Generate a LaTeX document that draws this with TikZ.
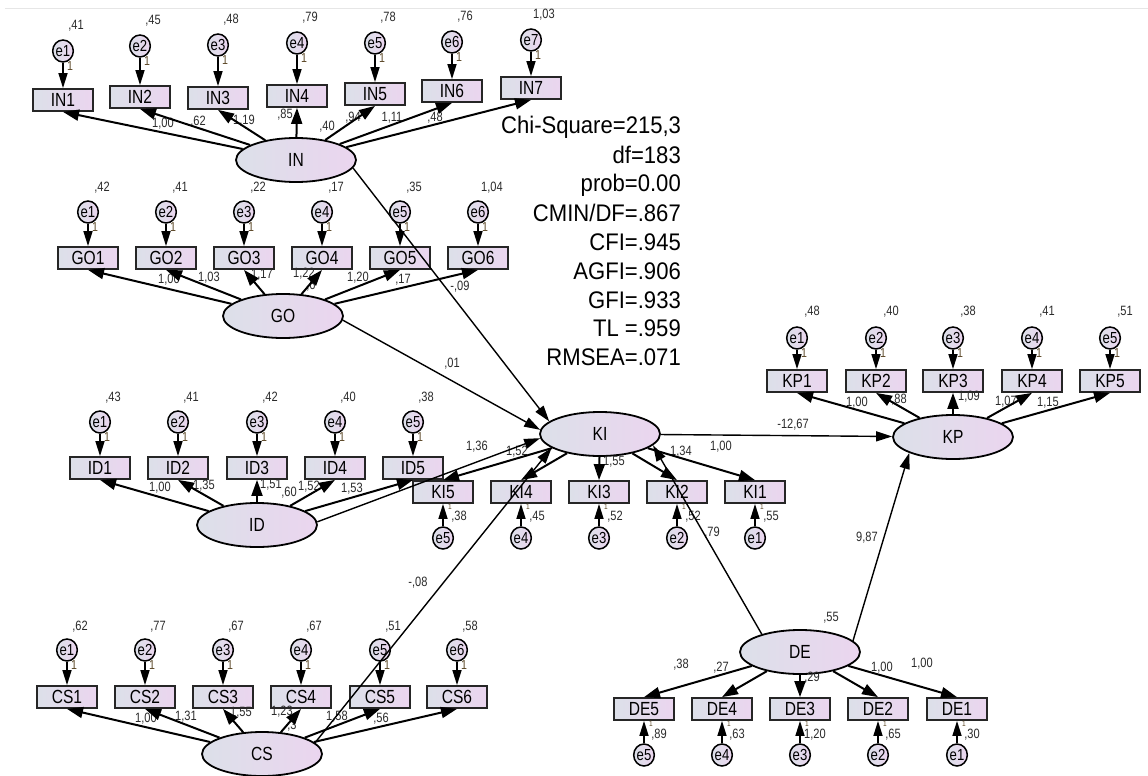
\documentclass[tikz,border=0pt]{standalone}
\usepackage{fontspec}
\setmainfont{Liberation Sans}
\newfontfamily\amosfont{Liberation Sans}[FakeStretch=0.82]
\newfontfamily\statfont{Liberation Sans}[FakeStretch=0.92]
\usetikzlibrary{arrows.meta,shapes.geometric}
\definecolor{boxleft}{HTML}{DCE0E9}
\definecolor{boxright}{HTML}{EBD5EF}
\definecolor{numcol}{HTML}{2B2B2B}
\definecolor{onecol}{HTML}{5E4A2A}
\definecolor{rulecol}{HTML}{E6E6E6}
\begin{document}
\begin{tikzpicture}[x=1pt,y=-1pt,
  obs/.style={rectangle,draw=black!85,line width=1.8pt,minimum width=60pt,minimum height=22pt,inner sep=0pt,left color=boxleft,right color=boxright,font=\amosfont\fontsize{19}{19}\selectfont},
  lat/.style={ellipse,draw=black,line width=1.8pt,minimum width=120pt,minimum height=44pt,inner sep=0pt,left color=boxleft,right color=boxright,font=\amosfont\fontsize{19}{19}\selectfont},
  err/.style={ellipse,draw=black,line width=1.5pt,minimum width=19pt,minimum height=22pt,inner sep=0pt,left color=boxleft,right color=boxright,font=\amosfont\fontsize{16}{16}\selectfont},
  load/.style={line width=2pt,-{Triangle[length=16pt,width=11pt]}},
  earr/.style={line width=1.6pt,-{Triangle[length=15pt,width=9pt]}},
  reg/.style={line width=1.4pt,-{Triangle[length=16pt,width=10pt]}},
  num/.style={text=numcol,inner sep=0pt,font=\amosfont\fontsize{13.5}{13.5}\selectfont},
  one/.style={text=onecol,inner sep=0pt,font=\amosfont\fontsize{13}{13}\selectfont},
  lowone/.style={text=onecol,inner sep=0pt,font=\amosfont\fontsize{8}{8}\selectfont},
  stats/.style={inner sep=0pt,font=\statfont\fontsize{24}{27}\selectfont}]
\path[use as bounding box,fill=white] (0,0) rectangle (1148,776);
\draw[rulecol,line width=1pt] (5,9) -- (1148,9);

% IN
\foreach \i/\x/\y/\ey/\v in {1/63/100/51/{,41},2/140/97/46/{,45},3/218/98/45/{,48},4/297/96/43/{,79},5/375/94/43/{,78},6/452/91/42/{,76},7/531/88/40/{1,03}}{
  \node[obs] (IN\i) at (\x,\y) {IN\i};
  \node[err] (eIN\i) at (\x,\ey) {e\i};
  \node[num] (vIN\i) at (\x+13,\ey-25) {\v};
  \node[one] (oIN\i) at (\x+7,\ey+15) {1};
}
\node[lat] (IN) at (296,160) {IN};

% GO
\foreach \i/\x/\v in {1/88/{,42},2/166/{,41},3/244/{,22},4/322/{,17},5/400/{,35},6/478/{1,04}}{
  \node[obs] (GO\i) at (\x,258) {GO\i};
  \node[err] (eGO\i) at (\x,212) {e\i};
  \node[num] (vGO\i) at (\x+14,188) {\v};
  \node[one] (oGO\i) at (\x+7,227) {1};
}
\node[lat] (GO) at (283,316) {GO};

% ID
\foreach \i/\x/\v in {1/100/{,43},2/178/{,41},3/257/{,42},4/335/{,40},5/413/{,38}}{
  \node[obs] (ID\i) at (\x,468) {ID\i};
  \node[err] (eID\i) at (\x,422) {e\i};
  \node[num] (vID\i) at (\x+13,398) {\v};
  \node[one] (oID\i) at (\x+7,437) {1};
}
\node[lat] (ID) at (257,525) {ID};

% CS
\foreach \i/\x/\v in {1/67/{,62},2/145/{,77},3/223/{,67},4/301/{,67},5/380/{,51},6/457/{,58}}{
  \node[obs] (CS\i) at (\x,697) {CS\i};
  \node[err] (eCS\i) at (\x,650) {e\i};
  \node[num] (vCS\i) at (\x+13,627) {\v};
  \node[one] (oCS\i) at (\x+7,665) {1};
}
\node[lat] (CS) at (262,754) {CS};

% KI
\foreach \i/\x/\v in {1/755/{,55},2/677/{,52},3/599/{,52},4/521/{,45},5/443/{,38}}{
  \node[obs] (KI\i) at (\x,492) {KI\i};
  \node[err] (eKI\i) at (\x,538) {e\i};
  \node[lowone] (oKI\i) at (\x+7,507) {1};
  \node[num] (vKI\i) at (\x+16,517) {\v};
}
\node[lat] (KI) at (600,434) {KI};

% KP
\foreach \i/\x/\v in {1/797/{,48},2/876/{,40},3/953/{,38},4/1032/{,41},5/1110/{,51}}{
  \node[obs] (KP\i) at (\x,381) {KP\i};
  \node[err] (eKP\i) at (\x,338) {e\i};
  \node[num] (vKP\i) at (\x+15,312) {\v};
  \node[one] (oKP\i) at (\x+7,353) {1};
}
\node[lat] (KP) at (953,437) {KP};

% DE
\foreach \i/\x/\v in {1/957/{,30},2/878/{,65},3/800/{1,20},4/722/{,63},5/644/{,89}}{
  \node[obs] (DE\i) at (\x,709) {DE\i};
  \node[err] (eDE\i) at (\x,755) {e\i};
  \node[lowone] (oDE\i) at (\x+7,724) {1};
  \node[num] (vDE\i) at (\x+15,735) {\v};
}
\node[lat] (DE) at (800,652) {DE};

% estimates
\foreach \t/\x/\y [count=\k] in {{1,00}/163/124,{,62}/198/122,{1,19}/244/121,{,85}/285/115,{,40}/327/127,{,94}/353/118,{1,11}/392/118,{,48}/435/118,
  {1,00}/169/280,{1,03}/209/278,{1,17}/262/275,{1,22}/304/274,{,6}/311/286,{1,20}/358/278,{,17}/403/280,{-,09}/460/287,{,01}/452/364,
  {1,00}/160/488,{1,35}/204/486,{1,51}/271/485,{,60}/289/493,{1,52}/309/487,{1,53}/352/489,{1,36}/477/447,{1,52}/517/452,
  {1,00}/146/719,{1,31}/186/717,{1,55}/241/713,{1,23}/282/712,{,3}/292/726,{1,58}/337/717,{,56}/381/719,{-,08}/418/583,
  {1,55}/614/462,{1,34}/681/452,{1,00}/721/447,{,79}/712/533,{-12,67}/793/425,{9,87}/867/538,
  {1,00}/857/403,{,88}/899/400,{1,09}/969/397,{1,07}/1006/402,{1,15}/1048/403,
  {,55}/831/618,{,38}/681/665,{,27}/721/668,{,29}/812/678,{1,00}/882/668,{1,00}/922/664}
  \node[num] (w\k) at (\x,\y) {\t};

% fit indices
\node[stats,anchor=base west] (chisq) at (501,133) {Chi-Square=215,3};
\foreach \t/\y [count=\k] in {df=183/155,prob=0.00/183,{CMIN/DF=.867}/213,CFI=.945/242,AGFI=.906/271,GFI=.933/300,TL =.959/328,RMSEA=.071/357}
  \node[stats,anchor=base east] (stat\k) at (681,\y+8) {\t};

% measurement arrows
\foreach \i in {1,...,7} {\draw[earr] (eIN\i) -- (IN\i); \draw[load] (IN) -- (IN\i.south);}
\foreach \i in {1,...,6} {\draw[earr] (eGO\i) -- (GO\i); \draw[load] (GO) -- (GO\i.south);}
\foreach \i in {1,...,5} {\draw[earr] (eID\i) -- (ID\i); \draw[load] (ID) -- (ID\i.south);}
\foreach \i in {1,...,6} {\draw[earr] (eCS\i) -- (CS\i); \draw[load] (CS) -- (CS\i.south);}
\foreach \i in {1,...,5} {\draw[earr] (eKP\i) -- (KP\i); \draw[load] (KP) -- (KP\i.south);}
\foreach \i in {1,...,5} {\draw[earr] (eKI\i) -- (KI\i); \draw[load] (KI) -- (KI\i.north);}
\foreach \i in {1,...,5} {\draw[earr] (eDE\i) -- (DE\i); \draw[load] (DE) -- (DE\i.north);}

% structural paths
\draw[reg] (IN.-8) -- (KI.166);
\draw[reg] (GO.-4) -- (KI.176);
\draw[reg] (ID.3) -- (KI.184);
\draw[reg] (CS.12) -- (KI.196);
\draw[reg] (KI) -- (KP);
\draw[reg] (DE.155) -- (KI.-12);
\draw[reg] (DE.12) -- (KP.200);
\end{tikzpicture}
\end{document}
